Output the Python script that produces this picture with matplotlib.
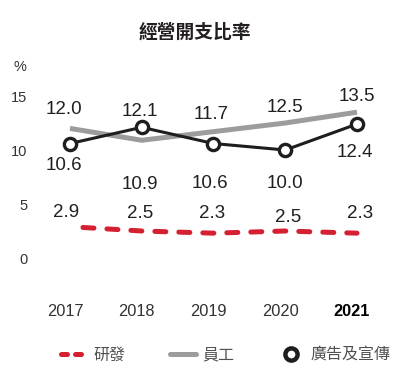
import numpy as np
import matplotlib
matplotlib.use("Agg")
import matplotlib.pyplot as plt
import matplotlib.transforms as mtransforms
from matplotlib.lines import Line2D

plt.rcParams['font.family'] = ['Liberation Sans', 'Noto Sans CJK TC', 'DejaVu Sans']

years = [2017, 2018, 2019, 2020, 2021]
year_labels = ["2017", "2018", "2019", "2020", "2021"]
rnd = [2.9, 2.5, 2.3, 2.5, 2.3]          # 研發
staff = [12.0, 10.9, 11.7, 12.5, 13.5]   # 員工
adv = [10.6, 12.1, 10.6, 10.0, 12.4]     # 廣告及宣傳

RED = "#d42030"
GREY = "#9c9c9e"
BLACK = "#1e1e1e"
TXT = "#231f20"

# label offsets in pixels (dx, dy), dy positive = up
rnd_off = [(-4, 14), (-2, 18), (-1, 20), (3, 13), (3, 20)]
staff_off = [(-6, 19), (-2, -44), (-2, 17), (0, 16), (0, 16)]
adv_off = [(-6, -22), (-2, 16), (-4, -40), (0, -34), (-2, -28)]

fig = plt.figure(figsize=(4.18, 3.92), dpi=100)
ax = fig.add_axes([40/418, (392-290)/392, 350/418, 230/392])
ax.set_xlim(2016.582, 2021.46)
ax.set_ylim(-32/10.8, 198/10.8)

lw_r = 3.6
ax.plot(years, rnd, color=RED, lw=lw_r, solid_capstyle='round', dash_capstyle='round',
        ls=(2.2, (2.2, 2.6)), zorder=2)
ax.plot(years, staff, color=GREY, lw=3.6, solid_capstyle='butt', zorder=2)
ax.plot(years, adv, color=BLACK, lw=2.2, marker='o', ms=8.8, mfc='white',
        mec=BLACK, mew=2.4, zorder=3)

px = 0.72
for vals, offs in [(rnd, rnd_off), (staff, staff_off), (adv, adv_off)]:
    for x, v, (dx, dy) in zip(years, vals, offs):
        ax.annotate(f"{v:.1f}", (x, v), xytext=(dx*px, dy*px), textcoords='offset points',
                    ha='center', va='center', fontsize=13.5, color=TXT)

for s in ax.spines.values():
    s.set_visible(False)
ax.set_yticks([0, 5, 10, 15])
ax.set_yticklabels(["0", "5", "10", "15"])
ax.set_xticks(years)
ax.set_xticklabels(year_labels)
ax.tick_params(axis='y', length=0, pad=9, labelsize=10.5, labelcolor="#333333")
ax.tick_params(axis='x', length=0, pad=10, labelsize=11.8, labelcolor="#333333")
shift = mtransforms.ScaledTranslation(-5/100, 0, fig.dpi_scale_trans)
for lab in ax.get_xticklabels():
    lab.set_transform(lab.get_transform() + shift)
ax.get_xticklabels()[-1].set_fontweight('bold')
ax.get_xticklabels()[-1].set_color('black')

fig.text(20/418, 1-67/392, "%", ha='center', va='center', fontsize=10.5, color="#333333")
fig.text(195/418, 1-32/392, "經營開支比率", ha='center', va='center', fontsize=13.5,
         fontweight='bold', color=TXT, family=['Noto Sans CJK TC'])

handles = [
    Line2D([], [], color=RED, lw=lw_r, ls=(0, (1.2, 1.6)), dash_capstyle='round'),
    Line2D([], [], color=GREY, lw=3.6, solid_capstyle='round'),
    Line2D([], [], color=BLACK, lw=0, marker='o', ms=8.8, mfc='white', mec=BLACK, mew=3.2),
]
leg = fig.legend(handles, ["研發", "員工", "廣告及宣傳"], loc='center',
                 bbox_to_anchor=(226/418, 1-355/392), ncol=3, frameon=False,
                 handlelength=1.6, handletextpad=0.4, columnspacing=2.8,
                 prop={'family': ['Noto Sans CJK TC'], 'size': 11.5})
for t in leg.get_texts():
    t.set_color("#505050")

fig.savefig("out.png", dpi=100)
